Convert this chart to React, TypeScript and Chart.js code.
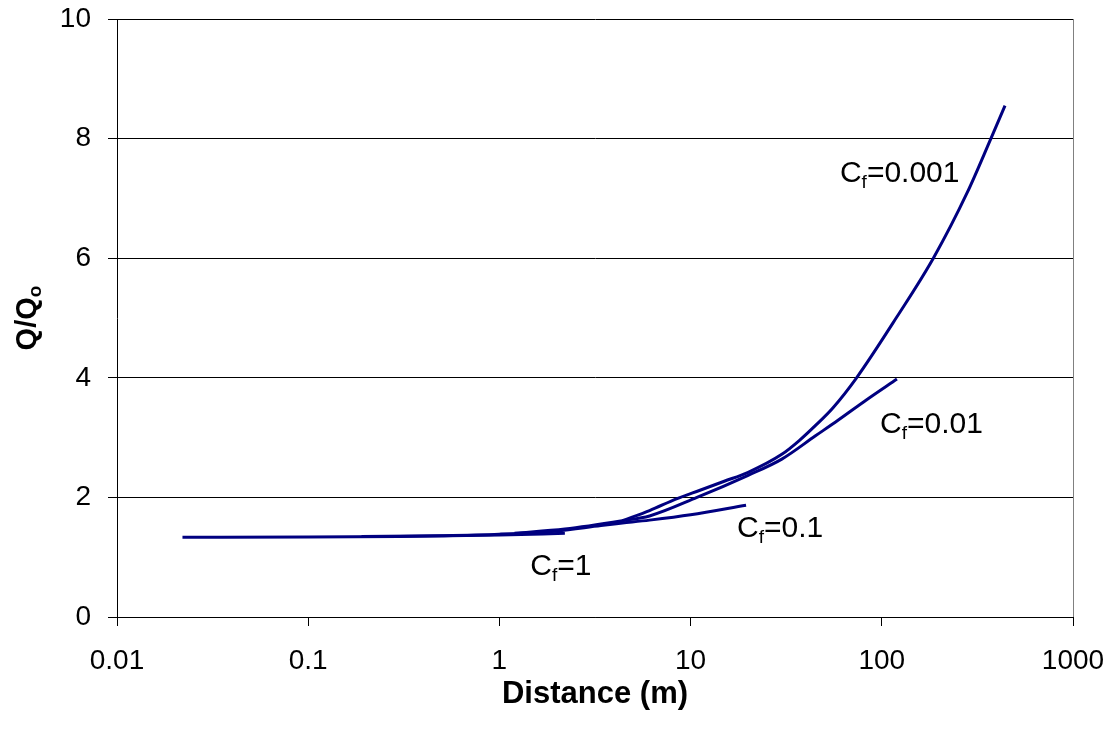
import React, { useEffect, useRef } from 'react';
import { Chart, registerables } from 'chart.js';

Chart.register(...registerables);

// ---- Axis ticks ----
const xTickValues = [0.01, 0.1, 1, 10, 100, 1000];
const xTickLabels = ['0.01', '0.1', '1', '10', '100', '1000'];
const yTickValues = [0, 2, 4, 6, 8, 10];

// ---- Series (distance in m, Q/Qo) ----
const cf1X = [0.022, 0.1, 0.3, 1, 2.2];
const cf1Y = [1.333, 1.336, 1.345, 1.37, 1.4];

const cf01X = [0.19, 0.5, 1, 2, 3.4, 4.4, 6.1, 10, 19.5];
const cf01Y = [1.345, 1.36, 1.385, 1.44, 1.53, 1.57, 1.62, 1.71, 1.87];

const cf001X = [1.2, 2.2, 4.4, 6.1, 10.8, 20, 30, 45, 59, 83, 120];
const cf001Y = [1.4, 1.47, 1.61, 1.69, 2.0, 2.37, 2.64, 3.03, 3.29, 3.63, 3.98];

const cf0001X = [4.4, 6.1, 8.5, 11.2, 15, 20, 30, 37, 45.6, 55.6, 73.8, 120, 186, 280, 372, 441];
const cf0001Y = [1.61, 1.78, 1.98, 2.12, 2.27, 2.42, 2.72, 2.95, 3.22, 3.5, 4.0, 5.02, 6.0, 7.1, 8.0, 8.55];

const seriesX = [cf1X, cf01X, cf001X, cf0001X];
const seriesY = [cf1Y, cf01Y, cf001Y, cf0001Y];

// ---- Curve labels: "C" + subscript "f" + "=value", anchored in data space ----
const labelValues = ['1', '0.1', '0.01', '0.001'];
const labelAtX = [1.45, 17.5, 98, 60.4];
const labelAtY = [0.7, 1.34, 3.08, 7.28];

const xTitle = 'Distance (m)';
const yTitleMain = 'Q/Q';
const yTitleSub = 'o';

const FONT = '"Liberation Sans", Arial, Helvetica, sans-serif';
const LINE_COLOR = '#000080';

const overlayPlugin = {
  id: 'overlay',
  afterDraw(chart: any) {
    const ctx = chart.ctx as CanvasRenderingContext2D;
    const area = chart.chartArea;
    const xs = chart.scales.x;
    const ys = chart.scales.y;
    ctx.save();

    // right plot border
    ctx.strokeStyle = '#808080';
    ctx.lineWidth = 1;
    ctx.beginPath();
    ctx.moveTo(Math.round(area.right) + 0.5, area.top);
    ctx.lineTo(Math.round(area.right) + 0.5, area.bottom);
    ctx.stroke();

    // curve labels
    ctx.fillStyle = '#000';
    ctx.textBaseline = 'alphabetic';
    ctx.textAlign = 'left';
    for (let i = 0; i < labelValues.length; i++) {
      let px = xs.getPixelForValue(labelAtX[i]);
      const py = ys.getPixelForValue(labelAtY[i]);
      ctx.font = `30px ${FONT}`;
      ctx.fillText('C', px, py);
      px += ctx.measureText('C').width;
      ctx.font = `19px ${FONT}`;
      ctx.fillText('f', px, py + 6);
      px += ctx.measureText('f').width;
      ctx.font = `30px ${FONT}`;
      ctx.fillText('=' + labelValues[i], px, py);
    }

    // x title
    ctx.font = `bold 31px ${FONT}`;
    ctx.textAlign = 'center';
    ctx.fillText(xTitle, (area.left + area.right) / 2, 703);

    // y title (rotated, with subscript)
    ctx.translate(36, (area.top + area.bottom) / 2);
    ctx.rotate(-Math.PI / 2);
    ctx.textAlign = 'left';
    ctx.font = `bold 29px ${FONT}`;
    const wMain = ctx.measureText(yTitleMain).width;
    ctx.font = `bold 19px ${FONT}`;
    const wSub = ctx.measureText(yTitleSub).width;
    const start = -(wMain + wSub) / 2;
    ctx.font = `bold 29px ${FONT}`;
    ctx.fillText(yTitleMain, start, 0);
    ctx.font = `bold 19px ${FONT}`;
    ctx.fillText(yTitleSub, start + wMain, 5);

    ctx.restore();
  },
};

const zeroPadding = (s: any) => {
  s.paddingTop = 0;
  s.paddingBottom = 0;
  s.paddingLeft = 0;
  s.paddingRight = 0;
};

export default function App() {
  const canvasRef = useRef<HTMLCanvasElement | null>(null);

  useEffect(() => {
    document.body.style.margin = '0';
    const canvas = canvasRef.current;
    if (!canvas) return;

    const datasets = seriesX.map((xsArr, si) => ({
      label: 'Cf=' + labelValues[si],
      data: xsArr.map((x, i) => ({ x, y: seriesY[si][i] })),
      borderColor: LINE_COLOR,
      backgroundColor: LINE_COLOR,
      borderWidth: 3,
      pointRadius: 0,
      fill: false,
      tension: 0.4,
      cubicInterpolationMode: 'monotone' as const,
    }));

    const chart = new Chart(canvas, {
      type: 'line',
      data: { datasets },
      options: {
        animation: false,
        responsive: false,
        devicePixelRatio: 1,
        layout: { padding: { top: 19, right: 40, left: 0, bottom: 0 } },
        plugins: {
          legend: { display: false },
          tooltip: { enabled: false },
          title: { display: false },
        },
        scales: {
          x: {
            type: 'logarithmic',
            min: 0.01,
            max: 1000,
            position: 'bottom',
            afterFit: (s: any) => {
              s.height = 117;
              zeroPadding(s);
            },
            afterBuildTicks: (s: any) => {
              s.ticks = xTickValues.map((v) => ({ value: v }));
            },
            ticks: {
              autoSkip: false,
              maxRotation: 0,
              minRotation: 0,
              color: '#000',
              padding: 18,
              font: { family: FONT, size: 28 },
              callback: (_v: any, i: number) => xTickLabels[i],
            },
            grid: {
              drawOnChartArea: false,
              drawTicks: true,
              tickLength: 9,
              tickColor: '#000',
              tickWidth: 1,
            },
            border: { display: true, color: '#000', width: 1 },
          },
          y: {
            type: 'linear',
            min: 0,
            max: 10,
            afterFit: (s: any) => {
              s.width = 117;
              zeroPadding(s);
            },
            afterBuildTicks: (s: any) => {
              s.ticks = yTickValues.map((v) => ({ value: v }));
            },
            ticks: {
              color: '#000',
              padding: 17,
              font: { family: FONT, size: 28 },
              callback: (_v: any, i: number) => String(yTickValues[i]),
            },
            grid: {
              color: '#000',
              lineWidth: 1,
              tickLength: 9,
              tickColor: '#000',
            },
            border: { display: true, color: '#000', width: 1 },
          },
        },
      },
      plugins: [overlayPlugin],
    });

    return () => chart.destroy();
  }, []);

  return (
    <div style={{ width: 1113, height: 734 }}>
      <canvas ref={canvasRef} width={1113} height={734} style={{ display: 'block' }} />
    </div>
  );
}
